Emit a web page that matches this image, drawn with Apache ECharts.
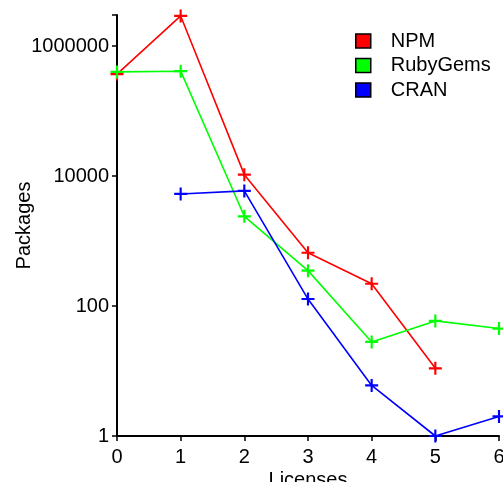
<!DOCTYPE html>
<html><head><meta charset="utf-8">
<script src="https://cdn.jsdelivr.net/npm/echarts@6/dist/echarts.min.js"></script>
<style>html,body{margin:0;padding:0;background:#fff}#c{width:503px;height:482px}</style>
</head><body><div id="c"></div>
<script>
const licenses = [0, 1, 2, 3, 4, 5, 6];
const npm = [370000, 2900000, 10500, 660, 220, 11, null];
const rubygems = [400000, 410000, 2400, 350, 28, 59, 45];
const cran = [null, 5300, 5900, 128, 6, 1, 2];
const yTicks = [1, 100, 10000, 1000000];

const plus = 'path://M5,0H7V5H12V7H7V12H5V7H0V5H5Z';
function mk(name, vals, color) {
  return {
    name, type: 'line',
    data: licenses.map((x, i) => [x, vals[i]]).filter(d => d[1] != null),
    symbol: plus, symbolSize: 13, showSymbol: true,
    itemStyle: { color },
    lineStyle: { color, width: 1.6 },
    emphasis: { disabled: true },
    clip: true
  };
}
const chart = echarts.init(document.getElementById('c'));
const font = 'Liberation Sans, Arial, sans-serif';
chart.setOption({
  animation: false,
  backgroundColor: '#fff',
  grid: { left: 117, right: 4, top: 15, bottom: 46, containLabel: false, outerBoundsMode: 'none' },
  legend: {
    left: 350, top: 26, orient: 'vertical', itemGap: 4.5,
    icon: 'rect', itemWidth: 15, itemHeight: 14,
    itemStyle: { borderColor: '#000', borderWidth: 1.5 },
    textStyle: { fontFamily: font, fontSize: 20, color: '#000', padding: [0, 0, 0, 15] },
    data: ['NPM', 'RubyGems', 'CRAN']
  },
  xAxis: {
    type: 'value', min: 0, max: 6, interval: 1,
    name: 'Licenses', nameLocation: 'middle', nameGap: 34, nameMoveOverlap: false,
    nameTextStyle: { fontFamily: font, fontSize: 20, color: '#000' },
    axisLine: { show: true, onZero: false, lineStyle: { color: '#000', width: 2 } },
    axisTick: { show: true, length: 5, lineStyle: { color: '#000', width: 1.5 } },
    axisLabel: { fontFamily: font, fontSize: 20, color: '#000', margin: 11 },
    splitLine: { show: false }
  },
  yAxis: {
    type: 'log', logBase: 100, min: 1, max: 3000000,
    name: 'Packages', nameLocation: 'middle', nameGap: 83, nameMoveOverlap: false,
    nameTextStyle: { fontFamily: font, fontSize: 20, color: '#000' },
    axisLine: { show: true, lineStyle: { color: '#000', width: 2 } },
    axisTick: { show: true, length: 5, lineStyle: { color: '#000', width: 1.5 } },
    axisLabel: { fontFamily: font, fontSize: 20, color: '#000', margin: 8,
      formatter: v => { const r = Math.round(v); return yTicks.includes(r) ? String(r) : ''; } },
    splitLine: { show: false }
  },
  series: [mk('NPM', npm, '#ff0000'), mk('RubyGems', rubygems, '#00ff00'), mk('CRAN', cran, '#0000ff')]
});
</script></body></html>
